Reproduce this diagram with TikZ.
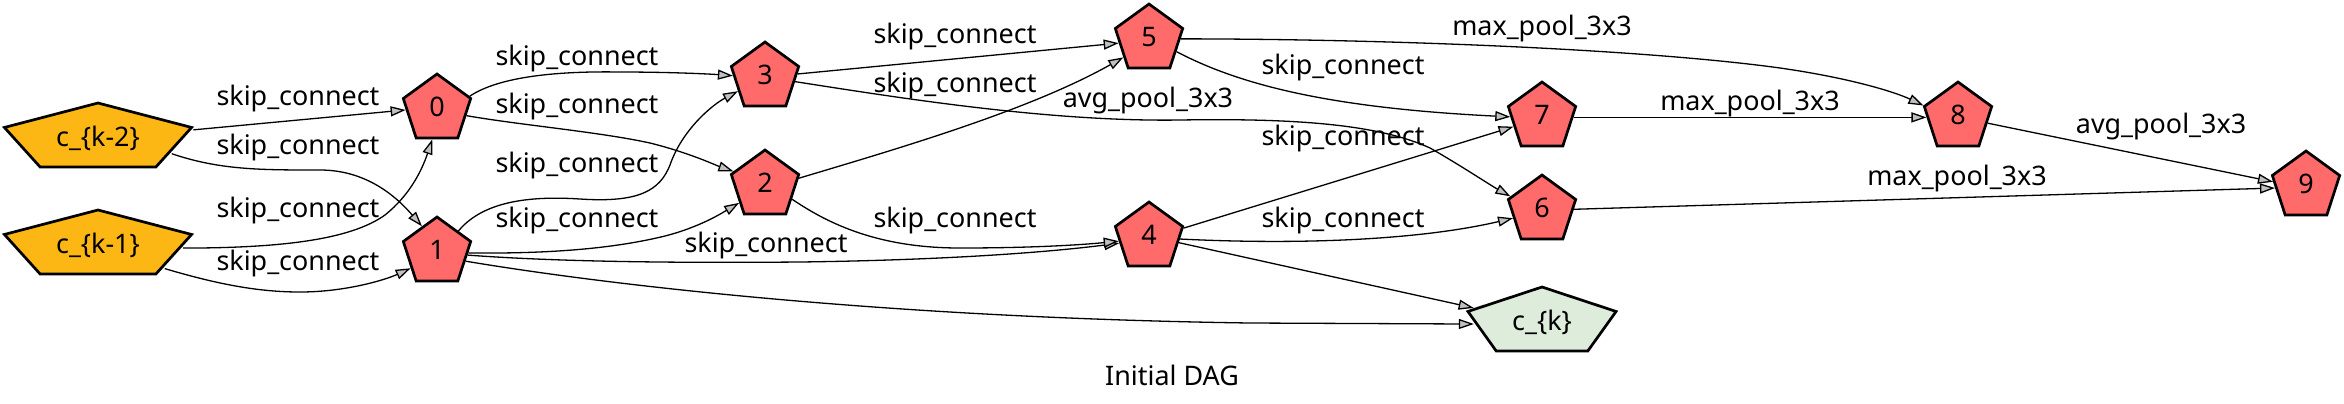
\documentclass[tikz,border=0pt]{standalone}
\usepackage{fontspec}
\setmainfont{Noto Sans}
\usetikzlibrary{shapes.geometric,arrows.meta}
\definecolor{opred}{RGB}{255,106,106}
\definecolor{inorange}{RGB}{252,183,20}
\definecolor{outgreen}{RGB}{222,236,220}
\definecolor{arrowgray}{RGB}{192,192,192}
\newcommand\lblfont{\fontsize{13.45}{16}\selectfont}
\begin{document}
\begin{tikzpicture}[x=0.5pt,y=-0.5pt,
  pent/.style={regular polygon, regular polygon sides=5, minimum size=35.4pt,
    inner sep=0pt, draw=black, line width=1.35pt},
  op/.style={pent, fill=opred},
  inp/.style={pent, fill=inorange, xscale=2.78},
  outp/.style={pent, fill=outgreen, xscale=2.2},
  lbl/.style={font=\lblfont, inner sep=0pt, anchor=base, text=black},
  conn/.style={draw=black, line width=0.65pt,
    -{Triangle[length=7.5pt,width=5pt,fill=arrowgray]}}]
\useasboundingbox (0,0) rectangle (2344,403);
% shapes
\node[inp] (ckm2) at (98,138.4) {};
\node[inp] (ckm1) at (98,245.4) {};
\node[op] (n0) at (437,109.4) {};
\node[op] (n1) at (437,252.4) {};
\node[op] (n3) at (765,77.4) {};
\node[op] (n2) at (765,185.4) {};
\node[op] (n5) at (1149,39.4) {};
\node[op] (n4) at (1149,237.4) {};
\node[op] (n7) at (1542,117.4) {};
\node[op] (n6) at (1542,210.4) {};
\node[outp] (ck) at (1542,322.4) {};
\node[op] (n8) at (1958,117.4) {};
\node[op] (n9) at (2306,186.4) {};
% node texts
\node[lbl] (tckm2) at (98,146) {c\_\{k-2\}};
\node[lbl] (tckm1) at (98,253) {c\_\{k-1\}};
\node[lbl] (t0) at (437,116) {0};
\node[lbl] (t1) at (437,259) {1};
\node[lbl] (t3) at (765,84) {3};
\node[lbl] (t2) at (765,192) {2};
\node[lbl] (t5) at (1149,46) {5};
\node[lbl] (t4) at (1149,244) {4};
\node[lbl] (t7) at (1542,124) {7};
\node[lbl] (t6) at (1542,217) {6};
\node[lbl] (tck) at (1542,330) {c\_\{k\}};
\node[lbl] (t8) at (1958,124) {8};
\node[lbl] (t9) at (2306,193) {9};
% connectors
\draw[conn] (ckm2.14) -- (n0.181);
\draw[conn] (ckm2.-30) .. controls (220,170) and (260,170) .. (320,170)
  .. controls (365,170) and (395,195) .. (n1.120);
\draw[conn] (ckm1.-5) .. controls (280,248) and (350,240) .. (385,215)
  .. controls (410,195) and (422,170) .. (n0.-99);
\draw[conn] (ckm1.-44) .. controls (220,285) and (260,292) .. (300,292)
  .. controls (345,292) and (385,280) .. (n1.211);
\draw[conn] (n0.22) .. controls (500,76) and (560,71) .. (620,72)
  .. controls (670,72) and (710,74) .. (n3.177);
\draw[conn] (n0.-12) .. controls (520,125) and (600,132) .. (650,143)
  .. controls (690,153) and (715,165) .. (n2.156);
\draw[conn] (n1.45) .. controls (480,205) and (520,195) .. (580,199)
  .. controls (640,203) and (660,190) .. (670,165)
  .. controls (682,130) and (712,105) .. (n3.207);
\draw[conn] (n1.-1) .. controls (560,254) and (620,247) .. (665,236)
  .. controls (700,227) and (722,213) .. (n2.214);
\draw[conn] (n1.-5) .. controls (560,262) and (680,263) .. (800,262)
  .. controls (950,260) and (1050,252) .. (n4.191);
\draw[conn] (n1.-17) .. controls (620,287) and (900,318) .. (1250,323) -- (ck.183);
\draw[conn] (n3.6) -- (n5.187);
\draw[conn] (n3.-8) .. controls (900,98) and (1050,122) .. (1180,120)
  .. controls (1300,118) and (1380,125) .. (1430,148)
  .. controls (1460,165) and (1490,185) .. (n6.156);
\draw[conn] (n2.12) .. controls (900,148) and (1030,110) .. (n5.215);
\draw[conn] (n2.-27) .. controls (830,225) and (880,248) .. (960,248)
  .. controls (1030,248) and (1080,245) .. (n4.187);
\draw[conn] (n5.1) .. controls (1400,39) and (1650,50) .. (1780,68)
  .. controls (1850,78) and (1895,92) .. (n8.161);
\draw[conn] (n5.-24) .. controls (1240,85) and (1330,108) .. (n7.179);
\draw[conn] (n4.15) -- (n7.198);
\draw[conn] (n4.-3) .. controls (1300,245) and (1420,240) .. (n6.195);
\draw[conn] (n4.-10) -- (ck.155);
\draw[conn] (n7.0) -- (n8.180);
\draw[conn] (n6.2) -- (n9.183);
\draw[conn] (n8.-11) -- (n9.172);
% connector labels
\node[lbl] (l1) at (298,105) {skip\_connect};
\node[lbl] (l2) at (298,154) {skip\_connect};
\node[lbl] (l3) at (298,217) {skip\_connect};
\node[lbl] (l4) at (298,270) {skip\_connect};
\node[lbl] (l5) at (577,65) {skip\_connect};
\node[lbl] (l6) at (577,113) {skip\_connect};
\node[lbl] (l7) at (577,172) {skip\_connect};
\node[lbl] (l8) at (577,227) {skip\_connect};
\node[lbl] (l9) at (766,252) {skip\_connect};
\node[lbl] (l11) at (955,43) {skip\_connect};
\node[lbl] (l13) at (955,92) {skip\_connect};
\node[lbl] (l14) at (955,227) {skip\_connect};
\node[lbl] (l12) at (1148,107) {avg\_pool\_3x3};
\node[lbl] (l15) at (1542,35) {max\_pool\_3x3};
\node[lbl] (l16) at (1343,74) {skip\_connect};
\node[lbl] (l17) at (1343,145) {skip\_connect};
\node[lbl] (l18) at (1343,227) {skip\_connect};
\node[lbl] (l20) at (1750,110) {max\_pool\_3x3};
\node[lbl] (l21) at (1957,185) {max\_pool\_3x3};
\node[lbl] (l22) at (2161,133) {avg\_pool\_3x3};
\node[lbl] (title) at (1172,385) {Initial DAG};
\end{tikzpicture}
\end{document}
